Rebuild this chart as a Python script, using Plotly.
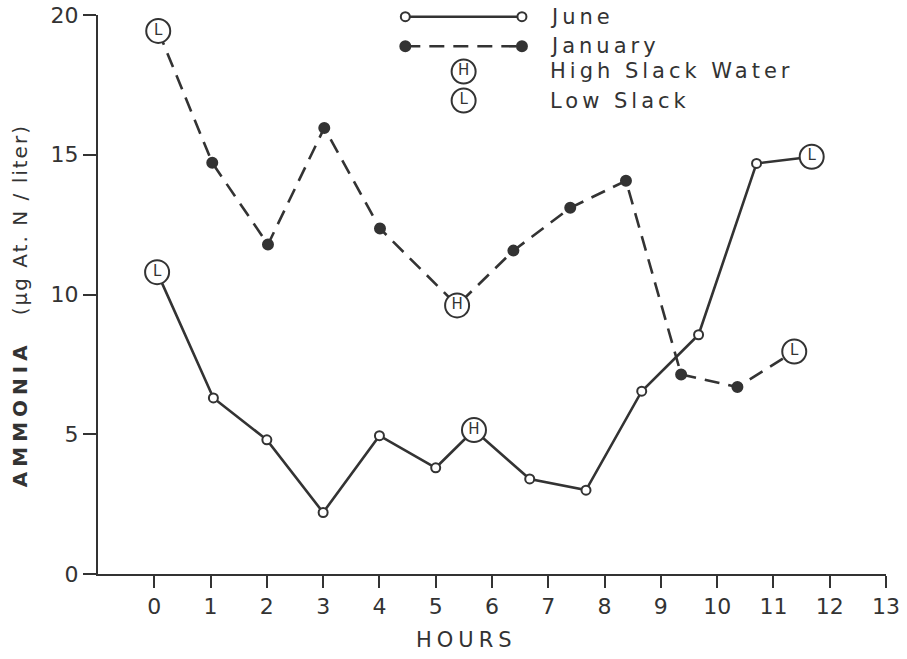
import plotly.graph_objects as go

# ---------------- data ----------------
june_hours = [0.05, 1.05, 2.0, 3.0, 4.0, 5.0, 5.68, 6.67, 7.67, 8.66, 9.67, 10.70, 11.68]
june_ammonia = [10.8, 6.3, 4.8, 2.2, 4.95, 3.8, 5.15, 3.4, 3.0, 6.54, 8.56, 14.69, 14.93]
june_tide = ["L", "", "", "", "", "", "H", "", "", "", "", "", "L"]

jan_hours = [0.07, 1.03, 2.02, 3.02, 4.01, 5.38, 6.38, 7.39, 8.38, 9.36, 10.36, 11.37]
jan_ammonia = [19.43, 14.71, 11.79, 15.96, 12.36, 9.61, 11.57, 13.10, 14.07, 7.14, 6.69, 7.96]
jan_tide = ["L", "", "", "", "", "H", "", "", "", "", "", "L"]

x_ticks = list(range(0, 14))
y_ticks = [0, 5, 10, 15, 20]

legend_labels = ["June", "January", "High Slack Water", "Low Slack"]

INK = "#333333"
FONT = "DejaVu Sans"

fig = go.Figure()


def add_series(hours, vals, tide, dash, filled):
    fig.add_trace(go.Scatter(x=hours, y=vals, mode="lines",
                             line=dict(color=INK, width=2.6, dash=dash),
                             hoverinfo="skip", cliponaxis=False))
    rx = [h for h, t in zip(hours, tide) if not t]
    ry = [v for v, t in zip(vals, tide) if not t]
    fig.add_trace(go.Scatter(x=rx, y=ry, mode="markers",
                             marker=dict(size=10 if filled else 9,
                                         color=INK if filled else "white",
                                         line=dict(color=INK, width=2)),
                             cliponaxis=False))
    tx = [h for h, t in zip(hours, tide) if t]
    ty = [v for v, t in zip(vals, tide) if t]
    tt = [t for t in tide if t]
    fig.add_trace(go.Scatter(x=tx, y=ty, mode="markers+text", text=tt,
                             textposition="middle center",
                             textfont=dict(family=FONT, size=15, color=INK),
                             marker=dict(size=24, color="white",
                                         line=dict(color=INK, width=2)),
                             cliponaxis=False))


add_series(june_hours, june_ammonia, june_tide, "solid", False)
add_series(jan_hours, jan_ammonia, jan_tide, "15px,9px", True)

# ---------------- legend (overlay axis, fraction coords) ----------------
lx0, lx1 = 0.39, 0.538
ly = [0.997, 0.944, 0.899, 0.847]
fig.add_trace(go.Scatter(x=[lx0, lx1], y=[ly[0]] * 2, xaxis="x2", yaxis="y2",
                         mode="lines+markers", line=dict(color=INK, width=2.6),
                         marker=dict(size=9, color="white", line=dict(color=INK, width=2)),
                         cliponaxis=False))
fig.add_trace(go.Scatter(x=[lx0, lx1], y=[ly[1]] * 2, xaxis="x2", yaxis="y2",
                         mode="lines+markers", line=dict(color=INK, width=2.6, dash="15px,9px"),
                         marker=dict(size=10, color=INK, line=dict(color=INK, width=2)),
                         cliponaxis=False))
fig.add_trace(go.Scatter(x=[0.464, 0.464], y=[ly[2], ly[3]], xaxis="x2", yaxis="y2",
                         mode="markers+text", text=["H", "L"], textposition="middle center",
                         textfont=dict(family=FONT, size=15, color=INK),
                         marker=dict(size=24, color="white", line=dict(color=INK, width=2)),
                         cliponaxis=False))
for lab, yy in zip(legend_labels, ly):
    fig.add_annotation(x=0.571, y=yy, xref="x2", yref="y2", xanchor="left", yanchor="middle",
                       text=f'<span style="letter-spacing:4px">{lab}</span>',
                       showarrow=False, font=dict(family=FONT, size=21, color=INK))

# axis titles
fig.add_annotation(xref="paper", yref="paper", x=0.0, y=0.479, xshift=-78,
                   xanchor="center", yanchor="middle", textangle=-90, showarrow=False,
                   text='<span style="letter-spacing:5px"><b>AMMONIA</b></span>'
                        '<span style="letter-spacing:2px">   (μg At. N / liter)</span>',
                   font=dict(family=FONT, size=20, color=INK))
fig.add_annotation(xref="paper", yref="paper", x=(466 - 98) / 788, y=0, yshift=-66,
                   xanchor="center", yanchor="middle", showarrow=False,
                   text='<span style="letter-spacing:5px">HOURS</span>',
                   font=dict(family=FONT, size=21, color=INK))

axis_common = dict(showline=True, linecolor=INK, linewidth=2, ticks="outside",
                   tickcolor=INK, tickwidth=2, showgrid=False, zeroline=False,
                   automargin=False,
                   tickfont=dict(family=FONT, size=22, color=INK))

fig.update_layout(
    width=907, height=659,
    margin=dict(l=98, r=21, t=15, b=85, autoexpand=False),
    paper_bgcolor="white", plot_bgcolor="white",
    showlegend=False,
    xaxis=dict(range=[-1, 13], tickvals=x_ticks, ticklen=12, **axis_common),
    yaxis=dict(range=[0, 20], tickvals=y_ticks, ticklen=13, **axis_common),
    xaxis2=dict(overlaying="x", range=[0, 1], visible=False),
    yaxis2=dict(overlaying="y", range=[0, 1], visible=False),
)

fig.write_html("out.html")
